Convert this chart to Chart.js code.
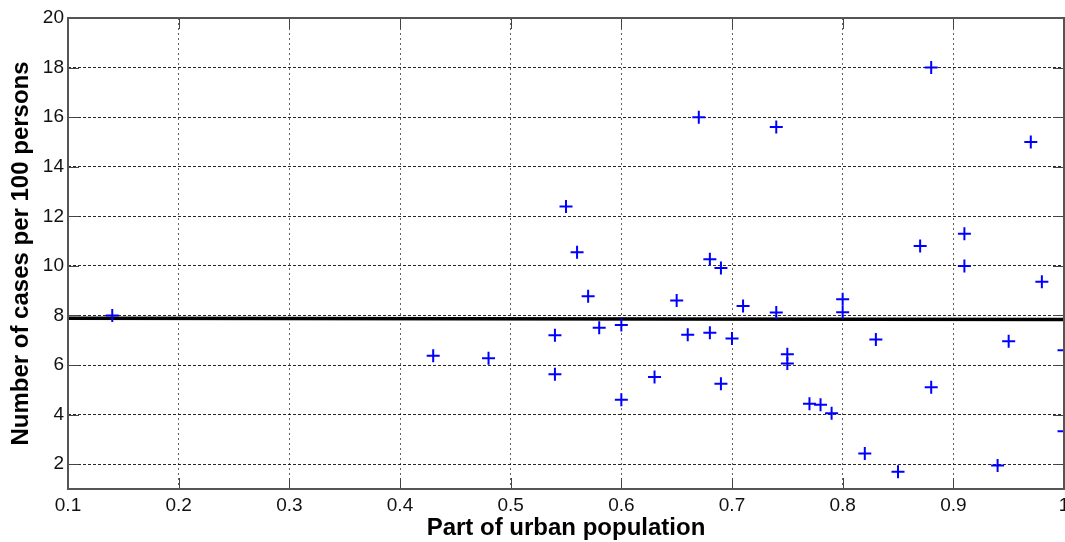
<!DOCTYPE html>
<html>
<head>
<meta charset="utf-8">
<script src="https://cdn.jsdelivr.net/npm/chart.js@4/dist/chart.umd.min.js"></script>
<style>
    html, body { margin: 0; padding: 0; background: #fff; }
    #wrap { width: 1065px; height: 542px; }
</style>
</head>
<body>
<div id="wrap"><canvas id="chart"></canvas></div>
<script>
// Urban share vs. cases per 100 persons
const urbanShare = [0.14, 0.43, 0.48, 0.54, 0.54, 0.55, 0.56, 0.57, 0.58, 0.60, 0.60, 0.63, 0.65, 0.66, 0.67,
    0.68, 0.68, 0.69, 0.69, 0.70, 0.71, 0.74, 0.74, 0.75, 0.75, 0.77, 0.78, 0.79, 0.80, 0.80,
    0.82, 0.83, 0.85, 0.87, 0.88, 0.88, 0.91, 0.91, 0.94, 0.95, 0.97, 0.98, 1.00, 1.00];
const casesPer100 = [8.0, 6.38, 6.27, 7.2, 5.63, 12.4, 10.55, 8.78, 7.5, 7.62, 4.6, 5.52, 8.6, 7.22, 16.0,
    10.27, 7.3, 9.92, 5.25, 7.07, 8.38, 15.6, 8.12, 6.44, 6.06, 4.44, 4.4, 4.06, 8.65, 8.13,
    2.43, 7.03, 1.7, 10.8, 18.0, 5.1, 11.3, 10.0, 1.95, 6.96, 15.0, 9.36, 6.6, 3.33];

// fitted line (nearly flat)
const fitX = [0.1, 1.0];
const fitY = [7.885, 7.84];

const xTicks = [0.1, 0.2, 0.3, 0.4, 0.5, 0.6, 0.7, 0.8, 0.9, 1];
const yTicks = [2, 4, 6, 8, 10, 12, 14, 16, 18, 20];

const points = urbanShare.map((x, i) => ({ x: x, y: casesPer100[i] }));
const fitLine = fitX.map((x, i) => ({ x: x, y: fitY[i] }));

// box around the axes + inward tick marks, matlab style
const boxPlugin = {
    id: 'boxPlugin',
    afterDraw(chart) {
        const { ctx, chartArea: a, scales } = chart;
        ctx.save();
        ctx.strokeStyle = '#444';
        ctx.lineWidth = 1;
        ctx.beginPath();
        yTicks.forEach(v => {
            const py = Math.round(scales.y.getPixelForValue(v)) + 0.5;
            ctx.moveTo(a.left, py); ctx.lineTo(a.left + 11, py);
            ctx.moveTo(a.right, py); ctx.lineTo(a.right - 11, py);
        });
        xTicks.forEach(v => {
            const px = Math.round(scales.x.getPixelForValue(v)) + 0.5;
            ctx.moveTo(px, a.bottom); ctx.lineTo(px, a.bottom - 11);
            ctx.moveTo(px, a.top); ctx.lineTo(px, a.top + 11);
        });
        ctx.stroke();
        ctx.lineWidth = 2;
        ctx.strokeStyle = '#555';
        ctx.strokeRect(a.left, a.top, a.right - a.left, a.bottom - a.top);
        ctx.restore();
    }
};

new Chart(document.getElementById('chart'), {
    type: 'scatter',
    data: {
        datasets: [
            {
                type: 'line',
                data: fitLine,
                borderColor: '#000',
                borderWidth: 3.5,
                pointRadius: 0,
                clip: 0,
                order: 2
            },
            {
                data: points,
                pointStyle: 'cross',
                pointRadius: 6.5,
                borderColor: '#0000ff',
                backgroundColor: '#0000ff',
                pointBorderWidth: 2,
                clip: 0,
                order: 1
            }
        ]
    },
    options: {
        responsive: true,
        maintainAspectRatio: false,
        animation: false,
        events: [],
        layout: { autoPadding: false, padding: { top: 18, right: 1, left: 0, bottom: 0 } },
        plugins: {
            legend: { display: false },
            tooltip: { enabled: false }
        },
        scales: {
            x: {
                type: 'linear',
                min: 0.1,
                max: 1,
                afterBuildTicks: s => { s.ticks = xTicks.map(v => ({ value: v })); },
                afterFit: s => { s.height = 53; s.paddingLeft = 0; s.paddingRight = 0; },
                grid: {
                    color: 'rgba(60,60,60,0.8)',
                    lineWidth: 1,
                    drawTicks: false
                },
                border: { display: false, dash: [2, 3] },
                ticks: {
                    color: '#111',
                    padding: 5,
                    maxRotation: 0,
                    font: { family: 'Liberation Sans, Arial, sans-serif', size: 19 },
                    callback: v => String(Math.round(v * 10) / 10)
                },
                title: {
                    display: true,
                    text: 'Part of urban population',
                    color: '#000',
                    padding: { top: 0, bottom: -1 },
                    font: { family: 'Liberation Sans, Arial, sans-serif', size: 24, weight: 'bold' }
                }
            },
            y: {
                type: 'linear',
                min: 1,
                max: 20,
                afterBuildTicks: s => { s.ticks = yTicks.map(v => ({ value: v })); },
                afterFit: s => { s.width = 68; s.paddingTop = 0; s.paddingBottom = 0; },
                grid: {
                    color: 'rgba(0,0,0,0.85)',
                    lineWidth: 1,
                    drawTicks: false
                },
                border: { display: false, dash: [3, 2] },
                ticks: {
                    color: '#111',
                    padding: 4,
                    font: { family: 'Liberation Sans, Arial, sans-serif', size: 19 }
                },
                title: {
                    display: true,
                    text: 'Number of cases per 100 persons',
                    color: '#000',
                    padding: { top: 7, bottom: 0 },
                    font: { family: 'Liberation Sans, Arial, sans-serif', size: 24, weight: 'bold' }
                }
            }
        }
    },
    plugins: [boxPlugin]
});
</script>
</body>
</html>
